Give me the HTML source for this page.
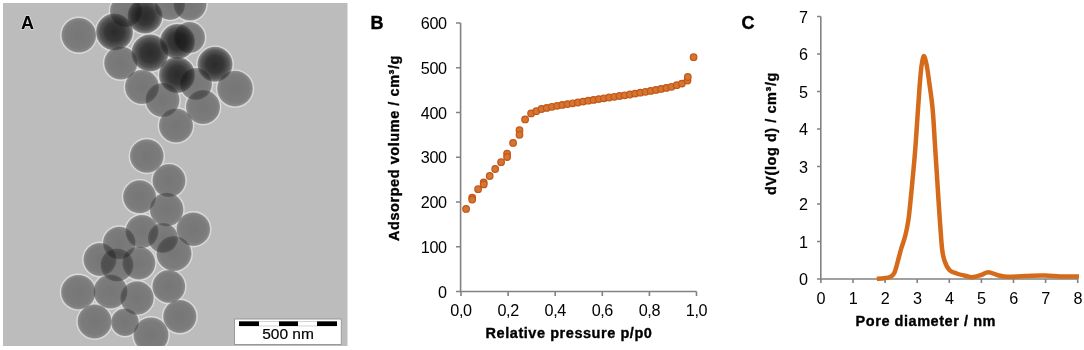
<!DOCTYPE html>
<html><head><meta charset="utf-8">
<style>
html,body{margin:0;padding:0;background:#fff;}
body{width:1084px;height:350px;position:relative;overflow:hidden;font-family:"Liberation Sans",sans-serif;}
svg text{font-family:"Liberation Sans",sans-serif;}
</style></head><body>
<svg width="344.5" height="343.3" viewBox="3 3 344.5 343.3" style="position:absolute;left:3px;top:3px">
<defs><radialGradient id="gm" cx="50%" cy="50%" r="50%"><stop offset="0" stop-color="#a0a0a0"/><stop offset="0.8" stop-color="#a8a8a8"/><stop offset="0.95" stop-color="#b8b8b8"/><stop offset="1" stop-color="#d0d0d0"/></radialGradient><radialGradient id="gd" cx="50%" cy="50%" r="50%"><stop offset="0" stop-color="#3a3a3a"/><stop offset="0.5" stop-color="#4a4a4a"/><stop offset="0.8" stop-color="#767676"/><stop offset="0.93" stop-color="#a0a0a0"/><stop offset="1" stop-color="#c8c8c8"/></radialGradient><radialGradient id="gh" cx="50%" cy="50%" r="50%"><stop offset="0" stop-color="#c8c8c8"/><stop offset="0.8" stop-color="#d0d0d0"/><stop offset="1" stop-color="#e8e8e8"/></radialGradient></defs>
<rect x="3" y="3" width="344.5" height="343.3" fill="#bcbcbc"/>
<circle cx="78.8" cy="35.2" r="18.0" fill="none" stroke="#dadada" stroke-width="1.4"/>
<circle cx="114.5" cy="32" r="19.2" fill="none" stroke="#dadada" stroke-width="1.4"/>
<circle cx="126" cy="11" r="16.7" fill="none" stroke="#dadada" stroke-width="1.4"/>
<circle cx="145" cy="16" r="18.2" fill="none" stroke="#dadada" stroke-width="1.4"/>
<circle cx="170" cy="5" r="15.7" fill="none" stroke="#dadada" stroke-width="1.4"/>
<circle cx="190" cy="4" r="17.2" fill="none" stroke="#dadada" stroke-width="1.4"/>
<circle cx="150" cy="53" r="19.2" fill="none" stroke="#dadada" stroke-width="1.4"/>
<circle cx="189.5" cy="37.5" r="16.2" fill="none" stroke="#dadada" stroke-width="1.4"/>
<circle cx="177.5" cy="41.5" r="18.2" fill="none" stroke="#dadada" stroke-width="1.4"/>
<circle cx="120.8" cy="63" r="17.3" fill="none" stroke="#dadada" stroke-width="1.4"/>
<circle cx="215" cy="64.3" r="18.2" fill="none" stroke="#dadada" stroke-width="1.4"/>
<circle cx="196" cy="84" r="16.7" fill="none" stroke="#dadada" stroke-width="1.4"/>
<circle cx="177" cy="75" r="18.7" fill="none" stroke="#dadada" stroke-width="1.4"/>
<circle cx="142" cy="87" r="17.7" fill="none" stroke="#dadada" stroke-width="1.4"/>
<circle cx="235" cy="88.6" r="18.5" fill="none" stroke="#dadada" stroke-width="1.4"/>
<circle cx="162.5" cy="100" r="17.7" fill="none" stroke="#dadada" stroke-width="1.4"/>
<circle cx="203" cy="107" r="17.7" fill="none" stroke="#dadada" stroke-width="1.4"/>
<circle cx="176" cy="125.5" r="17.7" fill="none" stroke="#dadada" stroke-width="1.4"/>
<circle cx="146.8" cy="156" r="17.5" fill="none" stroke="#dadada" stroke-width="1.4"/>
<circle cx="169" cy="180.6" r="17.2" fill="none" stroke="#dadada" stroke-width="1.4"/>
<circle cx="139.6" cy="196.8" r="17.2" fill="none" stroke="#dadada" stroke-width="1.4"/>
<circle cx="166.6" cy="209.6" r="17.5" fill="none" stroke="#dadada" stroke-width="1.4"/>
<circle cx="193.3" cy="229.2" r="17.5" fill="none" stroke="#dadada" stroke-width="1.4"/>
<circle cx="142" cy="231.5" r="17.2" fill="none" stroke="#dadada" stroke-width="1.4"/>
<circle cx="119.3" cy="243" r="17.0" fill="none" stroke="#dadada" stroke-width="1.4"/>
<circle cx="174" cy="253.5" r="18.2" fill="none" stroke="#dadada" stroke-width="1.4"/>
<circle cx="100" cy="259.5" r="17.2" fill="none" stroke="#dadada" stroke-width="1.4"/>
<circle cx="117" cy="265" r="17.2" fill="none" stroke="#dadada" stroke-width="1.4"/>
<circle cx="163" cy="238" r="15.7" fill="none" stroke="#dadada" stroke-width="1.4"/>
<circle cx="138.8" cy="263" r="17.2" fill="none" stroke="#dadada" stroke-width="1.4"/>
<circle cx="78.3" cy="292.2" r="17.9" fill="none" stroke="#dadada" stroke-width="1.4"/>
<circle cx="110.5" cy="291.5" r="17.7" fill="none" stroke="#dadada" stroke-width="1.4"/>
<circle cx="137" cy="298" r="17.4" fill="none" stroke="#dadada" stroke-width="1.4"/>
<circle cx="168.8" cy="286.5" r="17.099999999999998" fill="none" stroke="#dadada" stroke-width="1.4"/>
<circle cx="94.6" cy="321.5" r="17.7" fill="none" stroke="#dadada" stroke-width="1.4"/>
<circle cx="125" cy="322.3" r="14.5" fill="none" stroke="#dadada" stroke-width="1.4"/>
<circle cx="151" cy="335" r="18.2" fill="none" stroke="#dadada" stroke-width="1.4"/>
<circle cx="179.8" cy="316.5" r="17.3" fill="none" stroke="#dadada" stroke-width="1.4"/>
<circle cx="78.8" cy="35.2" r="17.0" fill="#bcbcbc"/>
<circle cx="114.5" cy="32" r="18.2" fill="#bcbcbc"/>
<circle cx="126" cy="11" r="15.7" fill="#bcbcbc"/>
<circle cx="145" cy="16" r="17.2" fill="#bcbcbc"/>
<circle cx="170" cy="5" r="14.7" fill="#bcbcbc"/>
<circle cx="190" cy="4" r="16.2" fill="#bcbcbc"/>
<circle cx="150" cy="53" r="18.2" fill="#bcbcbc"/>
<circle cx="189.5" cy="37.5" r="15.2" fill="#bcbcbc"/>
<circle cx="177.5" cy="41.5" r="17.2" fill="#bcbcbc"/>
<circle cx="120.8" cy="63" r="16.3" fill="#bcbcbc"/>
<circle cx="215" cy="64.3" r="17.2" fill="#bcbcbc"/>
<circle cx="196" cy="84" r="15.7" fill="#bcbcbc"/>
<circle cx="177" cy="75" r="17.7" fill="#bcbcbc"/>
<circle cx="142" cy="87" r="16.7" fill="#bcbcbc"/>
<circle cx="235" cy="88.6" r="17.5" fill="#bcbcbc"/>
<circle cx="162.5" cy="100" r="16.7" fill="#bcbcbc"/>
<circle cx="203" cy="107" r="16.7" fill="#bcbcbc"/>
<circle cx="176" cy="125.5" r="16.7" fill="#bcbcbc"/>
<circle cx="146.8" cy="156" r="16.5" fill="#bcbcbc"/>
<circle cx="169" cy="180.6" r="16.2" fill="#bcbcbc"/>
<circle cx="139.6" cy="196.8" r="16.2" fill="#bcbcbc"/>
<circle cx="166.6" cy="209.6" r="16.5" fill="#bcbcbc"/>
<circle cx="193.3" cy="229.2" r="16.5" fill="#bcbcbc"/>
<circle cx="142" cy="231.5" r="16.2" fill="#bcbcbc"/>
<circle cx="119.3" cy="243" r="16.0" fill="#bcbcbc"/>
<circle cx="174" cy="253.5" r="17.2" fill="#bcbcbc"/>
<circle cx="100" cy="259.5" r="16.2" fill="#bcbcbc"/>
<circle cx="117" cy="265" r="16.2" fill="#bcbcbc"/>
<circle cx="163" cy="238" r="14.7" fill="#bcbcbc"/>
<circle cx="138.8" cy="263" r="16.2" fill="#bcbcbc"/>
<circle cx="78.3" cy="292.2" r="16.9" fill="#bcbcbc"/>
<circle cx="110.5" cy="291.5" r="16.7" fill="#bcbcbc"/>
<circle cx="137" cy="298" r="16.4" fill="#bcbcbc"/>
<circle cx="168.8" cy="286.5" r="16.099999999999998" fill="#bcbcbc"/>
<circle cx="94.6" cy="321.5" r="16.7" fill="#bcbcbc"/>
<circle cx="125" cy="322.3" r="13.5" fill="#bcbcbc"/>
<circle cx="151" cy="335" r="17.2" fill="#bcbcbc"/>
<circle cx="179.8" cy="316.5" r="16.3" fill="#bcbcbc"/>
<circle cx="78.8" cy="35.2" r="17.3" fill="url(#gm)" style="mix-blend-mode:multiply"/>
<circle cx="114.5" cy="32" r="18.5" fill="url(#gd)" style="mix-blend-mode:multiply"/>
<circle cx="126" cy="11" r="16" fill="url(#gm)" style="mix-blend-mode:multiply"/>
<circle cx="145" cy="16" r="17.5" fill="url(#gd)" style="mix-blend-mode:multiply"/>
<circle cx="170" cy="5" r="15" fill="url(#gm)" style="mix-blend-mode:multiply"/>
<circle cx="190" cy="4" r="16.5" fill="url(#gm)" style="mix-blend-mode:multiply"/>
<circle cx="150" cy="53" r="18.5" fill="url(#gd)" style="mix-blend-mode:multiply"/>
<circle cx="189.5" cy="37.5" r="15.5" fill="url(#gm)" style="mix-blend-mode:multiply"/>
<circle cx="177.5" cy="41.5" r="17.5" fill="url(#gd)" style="mix-blend-mode:multiply"/>
<circle cx="120.8" cy="63" r="16.6" fill="url(#gm)" style="mix-blend-mode:multiply"/>
<circle cx="215" cy="64.3" r="17.5" fill="url(#gd)" style="mix-blend-mode:multiply"/>
<circle cx="196" cy="84" r="16" fill="url(#gm)" style="mix-blend-mode:multiply"/>
<circle cx="177" cy="75" r="18" fill="url(#gd)" style="mix-blend-mode:multiply"/>
<circle cx="142" cy="87" r="17" fill="url(#gm)" style="mix-blend-mode:multiply"/>
<circle cx="235" cy="88.6" r="17.8" fill="url(#gm)" style="mix-blend-mode:multiply"/>
<circle cx="162.5" cy="100" r="17" fill="url(#gm)" style="mix-blend-mode:multiply"/>
<circle cx="203" cy="107" r="17" fill="url(#gm)" style="mix-blend-mode:multiply"/>
<circle cx="176" cy="125.5" r="17" fill="url(#gm)" style="mix-blend-mode:multiply"/>
<circle cx="146.8" cy="156" r="16.8" fill="url(#gm)" style="mix-blend-mode:multiply"/>
<circle cx="169" cy="180.6" r="16.5" fill="url(#gm)" style="mix-blend-mode:multiply"/>
<circle cx="139.6" cy="196.8" r="16.5" fill="url(#gm)" style="mix-blend-mode:multiply"/>
<circle cx="166.6" cy="209.6" r="16.8" fill="url(#gm)" style="mix-blend-mode:multiply"/>
<circle cx="193.3" cy="229.2" r="16.8" fill="url(#gm)" style="mix-blend-mode:multiply"/>
<circle cx="142" cy="231.5" r="16.5" fill="url(#gm)" style="mix-blend-mode:multiply"/>
<circle cx="119.3" cy="243" r="16.3" fill="url(#gm)" style="mix-blend-mode:multiply"/>
<circle cx="174" cy="253.5" r="17.5" fill="url(#gm)" style="mix-blend-mode:multiply"/>
<circle cx="100" cy="259.5" r="16.5" fill="url(#gm)" style="mix-blend-mode:multiply"/>
<circle cx="117" cy="265" r="16.5" fill="url(#gm)" style="mix-blend-mode:multiply"/>
<circle cx="163" cy="238" r="15" fill="url(#gm)" style="mix-blend-mode:multiply"/>
<circle cx="138.8" cy="263" r="16.5" fill="url(#gm)" style="mix-blend-mode:multiply"/>
<circle cx="78.3" cy="292.2" r="17.2" fill="url(#gm)" style="mix-blend-mode:multiply"/>
<circle cx="110.5" cy="291.5" r="17" fill="url(#gm)" style="mix-blend-mode:multiply"/>
<circle cx="137" cy="298" r="16.7" fill="url(#gm)" style="mix-blend-mode:multiply"/>
<circle cx="168.8" cy="286.5" r="16.4" fill="url(#gm)" style="mix-blend-mode:multiply"/>
<circle cx="94.6" cy="321.5" r="17" fill="url(#gm)" style="mix-blend-mode:multiply"/>
<circle cx="125" cy="322.3" r="13.8" fill="url(#gm)" style="mix-blend-mode:multiply"/>
<circle cx="151" cy="335" r="17.5" fill="url(#gm)" style="mix-blend-mode:multiply"/>
<circle cx="179.8" cy="316.5" r="16.6" fill="url(#gm)" style="mix-blend-mode:multiply"/>
</svg>
<svg width="1084" height="350" style="position:absolute;left:0;top:0">
  <!-- panel A overlays -->
  <text x="21" y="29" font-size="18" font-weight="bold" fill="#000" stroke="#dcdcdc" stroke-width="1.6" paint-order="stroke" stroke-linejoin="round">A</text>
  <rect x="234.5" y="319" width="106.8" height="25.5" fill="#fff" stroke="#9a9a9a" stroke-width="1"/>
  <rect x="239.5" y="321.5" width="97" height="4.5" fill="#fff" stroke="#c8c8c8" stroke-width="0.8"/>
  <rect x="239" y="321.4" width="20" height="4.6" fill="#000"/>
  <rect x="279" y="321.4" width="19" height="4.6" fill="#000"/>
  <rect x="317" y="321.4" width="20" height="4.6" fill="#000"/>
  <text x="288" y="339.1" font-size="15.5" text-anchor="middle" fill="#000" stroke="#000" stroke-width="0.2">500 nm</text>

  <!-- panel B -->
  <text x="370.6" y="29" font-size="18" font-weight="bold" stroke="#000" stroke-width="0.4">B</text>
  <g stroke="#828282" stroke-width="1.6" fill="none">
    <path d="M460.6,23 V291.5 H696.5"/>
    <path d="M456,23 H460.6 M456,67.75 H460.6 M456,112.5 H460.6 M456,157.25 H460.6 M456,202 H460.6 M456,246.75 H460.6 M456,291.5 H460.6"/>
    <path d="M461,291.5 V296 M508.1,291.5 V296 M555.2,291.5 V296 M602.3,291.5 V296 M649.4,291.5 V296 M696.5,291.5 V296"/>
  </g>
  <g font-size="16.2" letter-spacing="-0.4" text-anchor="end" fill="#000">
    <text x="446.6" y="29">600</text>
    <text x="446.6" y="73.75">500</text>
    <text x="446.6" y="118.5">400</text>
    <text x="446.6" y="163.25">300</text>
    <text x="446.6" y="208">200</text>
    <text x="446.6" y="252.75">100</text>
    <text x="446.6" y="297.5">0</text>
  </g>
  <g font-size="16.2" letter-spacing="-0.4" text-anchor="middle" fill="#000">
    <text x="461" y="315.6">0,0</text>
    <text x="508.1" y="315.6">0,2</text>
    <text x="555.2" y="315.6">0,4</text>
    <text x="602.3" y="315.6">0,6</text>
    <text x="649.4" y="315.6">0,8</text>
    <text x="696.5" y="315.6">1,0</text>
  </g>
  <text transform="translate(399.4,148) rotate(-90)" font-size="14.5" font-weight="bold" letter-spacing="0.55" stroke="#000" stroke-width="0.35" text-anchor="middle">Adsorped volume / cm³/g</text>
  <text x="569" y="338" font-size="14.5" font-weight="bold" letter-spacing="0.55" stroke="#000" stroke-width="0.35" text-anchor="middle">Relative pressure p/p0</text>
  <circle cx="466.1" cy="208.9" r="3.3" fill="#d7742f" stroke="#c0581a" stroke-width="1.2"/>
<circle cx="472.2" cy="197.6" r="3.3" fill="#d7742f" stroke="#c0581a" stroke-width="1.2"/>
<circle cx="472.2" cy="199.6" r="3.3" fill="#d7742f" stroke="#c0581a" stroke-width="1.2"/>
<circle cx="478.1" cy="189.2" r="3.3" fill="#d7742f" stroke="#c0581a" stroke-width="1.2"/>
<circle cx="483.7" cy="182.4" r="3.3" fill="#d7742f" stroke="#c0581a" stroke-width="1.2"/>
<circle cx="483.7" cy="184.4" r="3.3" fill="#d7742f" stroke="#c0581a" stroke-width="1.2"/>
<circle cx="489.7" cy="176" r="3.3" fill="#d7742f" stroke="#c0581a" stroke-width="1.2"/>
<circle cx="495.2" cy="169" r="3.3" fill="#d7742f" stroke="#c0581a" stroke-width="1.2"/>
<circle cx="501.1" cy="162.2" r="3.3" fill="#d7742f" stroke="#c0581a" stroke-width="1.2"/>
<circle cx="507.1" cy="153.7" r="3.3" fill="#d7742f" stroke="#c0581a" stroke-width="1.2"/>
<circle cx="507.1" cy="157" r="3.3" fill="#d7742f" stroke="#c0581a" stroke-width="1.2"/>
<circle cx="513.1" cy="142.9" r="3.3" fill="#d7742f" stroke="#c0581a" stroke-width="1.2"/>
<circle cx="519.5" cy="130.2" r="3.3" fill="#d7742f" stroke="#c0581a" stroke-width="1.2"/>
<circle cx="519.5" cy="134.8" r="3.3" fill="#d7742f" stroke="#c0581a" stroke-width="1.2"/>
<circle cx="525.1" cy="119.4" r="3.3" fill="#d7742f" stroke="#c0581a" stroke-width="1.2"/>
<circle cx="531.1" cy="113.4" r="3.3" fill="#d7742f" stroke="#c0581a" stroke-width="1.2"/>
<circle cx="536.3" cy="111.2" r="3.3" fill="#d7742f" stroke="#c0581a" stroke-width="1.2"/>
<circle cx="541.5" cy="109.0" r="3.3" fill="#d7742f" stroke="#c0581a" stroke-width="1.2"/>
<circle cx="546.7" cy="107.9" r="3.3" fill="#d7742f" stroke="#c0581a" stroke-width="1.2"/>
<circle cx="551.9" cy="106.8" r="3.3" fill="#d7742f" stroke="#c0581a" stroke-width="1.2"/>
<circle cx="557.1" cy="105.8" r="3.3" fill="#d7742f" stroke="#c0581a" stroke-width="1.2"/>
<circle cx="562.3" cy="104.9" r="3.3" fill="#d7742f" stroke="#c0581a" stroke-width="1.2"/>
<circle cx="567.5" cy="104.1" r="3.3" fill="#d7742f" stroke="#c0581a" stroke-width="1.2"/>
<circle cx="572.7" cy="103.3" r="3.3" fill="#d7742f" stroke="#c0581a" stroke-width="1.2"/>
<circle cx="577.9" cy="102.5" r="3.3" fill="#d7742f" stroke="#c0581a" stroke-width="1.2"/>
<circle cx="583.1" cy="101.6" r="3.3" fill="#d7742f" stroke="#c0581a" stroke-width="1.2"/>
<circle cx="588.3" cy="100.7" r="3.3" fill="#d7742f" stroke="#c0581a" stroke-width="1.2"/>
<circle cx="593.5" cy="99.9" r="3.3" fill="#d7742f" stroke="#c0581a" stroke-width="1.2"/>
<circle cx="598.7" cy="99.1" r="3.3" fill="#d7742f" stroke="#c0581a" stroke-width="1.2"/>
<circle cx="603.9" cy="98.3" r="3.3" fill="#d7742f" stroke="#c0581a" stroke-width="1.2"/>
<circle cx="609.1" cy="97.5" r="3.3" fill="#d7742f" stroke="#c0581a" stroke-width="1.2"/>
<circle cx="614.3" cy="96.8" r="3.3" fill="#d7742f" stroke="#c0581a" stroke-width="1.2"/>
<circle cx="619.5" cy="96.0" r="3.3" fill="#d7742f" stroke="#c0581a" stroke-width="1.2"/>
<circle cx="624.7" cy="95.3" r="3.3" fill="#d7742f" stroke="#c0581a" stroke-width="1.2"/>
<circle cx="629.9" cy="94.5" r="3.3" fill="#d7742f" stroke="#c0581a" stroke-width="1.2"/>
<circle cx="635.1" cy="93.6" r="3.3" fill="#d7742f" stroke="#c0581a" stroke-width="1.2"/>
<circle cx="640.3" cy="92.7" r="3.3" fill="#d7742f" stroke="#c0581a" stroke-width="1.2"/>
<circle cx="645.5" cy="91.8" r="3.3" fill="#d7742f" stroke="#c0581a" stroke-width="1.2"/>
<circle cx="650.7" cy="90.9" r="3.3" fill="#d7742f" stroke="#c0581a" stroke-width="1.2"/>
<circle cx="655.9" cy="89.9" r="3.3" fill="#d7742f" stroke="#c0581a" stroke-width="1.2"/>
<circle cx="661.1" cy="88.9" r="3.3" fill="#d7742f" stroke="#c0581a" stroke-width="1.2"/>
<circle cx="666.3" cy="87.9" r="3.3" fill="#d7742f" stroke="#c0581a" stroke-width="1.2"/>
<circle cx="671.5" cy="86.8" r="3.3" fill="#d7742f" stroke="#c0581a" stroke-width="1.2"/>
<circle cx="676.7" cy="85.2" r="3.3" fill="#d7742f" stroke="#c0581a" stroke-width="1.2"/>
<circle cx="681.9" cy="83.6" r="3.3" fill="#d7742f" stroke="#c0581a" stroke-width="1.2"/>
<circle cx="687.5" cy="80.5" r="3.3" fill="#d7742f" stroke="#c0581a" stroke-width="1.2"/>
<circle cx="687.8" cy="77" r="3.3" fill="#d7742f" stroke="#c0581a" stroke-width="1.2"/>
<circle cx="693.6" cy="57.2" r="3.3" fill="#d7742f" stroke="#c0581a" stroke-width="1.2"/>

  <!-- panel C -->
  <text x="741.6" y="29" font-size="18" font-weight="bold" stroke="#000" stroke-width="0.4">C</text>
  <g stroke="#828282" stroke-width="1.6" fill="none">
    <path d="M820.8,16.5 V279 H1078"/>
    <path d="M817,16.5 H820.8 M817,54 H820.8 M817,91.5 H820.8 M817,129 H820.8 M817,166.5 H820.8 M817,204 H820.8 M817,241.5 H820.8 M817,279 H820.8"/>
    <path d="M820.9,279 V283 M853,279 V283 M885.1,279 V283 M917.2,279 V283 M949.3,279 V283 M981.4,279 V283 M1013.5,279 V283 M1045.6,279 V283 M1077.7,279 V283"/>
  </g>
  <g font-size="16.2" letter-spacing="-0.4" text-anchor="end" fill="#000">
    <text x="807.6" y="22.6">7</text>
    <text x="807.6" y="60.1">6</text>
    <text x="807.6" y="97.6">5</text>
    <text x="807.6" y="135.1">4</text>
    <text x="807.6" y="172.6">3</text>
    <text x="807.6" y="210.1">2</text>
    <text x="807.6" y="247.6">1</text>
    <text x="807.6" y="285.1">0</text>
  </g>
  <g font-size="16.2" letter-spacing="-0.4" text-anchor="middle" fill="#000">
    <text x="820.9" y="304.2">0</text>
    <text x="853" y="304.2">1</text>
    <text x="885.1" y="304.2">2</text>
    <text x="917.2" y="304.2">3</text>
    <text x="949.3" y="304.2">4</text>
    <text x="981.4" y="304.2">5</text>
    <text x="1013.5" y="304.2">6</text>
    <text x="1045.6" y="304.2">7</text>
    <text x="1077.7" y="304.2">8</text>
  </g>
  <text transform="translate(776,133.6) rotate(-90)" font-size="14.5" font-weight="bold" letter-spacing="0.55" stroke="#000" stroke-width="0.35" text-anchor="middle">dV(log d) / cm³/g</text>
  <text x="925.8" y="326" font-size="14.5" font-weight="bold" letter-spacing="0.55" stroke="#000" stroke-width="0.35" text-anchor="middle">Pore diameter / nm</text>
  <path d="M876.8,278.8 C878.0,278.7 881.8,278.5 884,278.2 C886.2,277.9 888.2,277.9 889.9,277 C891.6,276.1 893.0,275.7 894.3,273 C895.6,270.3 896.8,265.0 897.9,261 C899.0,257.0 899.9,253.2 901.1,249 C902.3,244.8 904.0,240.8 905.2,236 C906.4,231.2 907.5,226.0 908.4,220 C909.3,214.0 909.8,207.5 910.6,200 C911.4,192.5 912.2,183.3 913,175 C913.8,166.7 914.4,160.0 915.2,150 C916.0,140.0 916.9,125.8 917.6,115 C918.4,104.2 919.1,93.2 919.7,85 C920.4,76.8 920.8,70.8 921.5,66 C922.2,61.2 923.0,56.9 923.7,56.2 C924.5,55.5 925.4,59.7 926,62 C926.6,64.3 926.9,66.2 927.5,70 C928.1,73.8 928.7,78.3 929.6,85 C930.5,91.7 931.8,99.2 932.7,110 C933.7,120.8 934.3,135.0 935.3,150 C936.3,165.0 937.7,187.5 938.5,200 C939.3,212.5 939.6,216.8 940.2,225 C940.8,233.2 941.4,243.0 942.1,249 C942.8,255.0 943.4,257.5 944.6,261 C945.8,264.5 947.4,267.9 949.4,270 C951.4,272.1 953.9,272.5 956.7,273.5 C959.5,274.5 963.8,275.4 966.4,276 C969.0,276.6 970.1,277.4 972.5,277.2 C974.9,277.0 978.4,275.8 981,275 C983.6,274.2 985.5,272.2 988.3,272.2 C991.1,272.2 994.7,274.4 998,275.2 C1001.3,276.0 1003.5,276.7 1008,276.8 C1012.5,276.9 1018.8,276.2 1025,276 C1031.2,275.8 1039.2,275.5 1045,275.6 C1050.8,275.7 1054.3,276.2 1060,276.4 C1065.7,276.5 1075.8,276.5 1079,276.5" fill="none" stroke="#d56a1a" stroke-width="4.5" stroke-linecap="butt" stroke-linejoin="round"/>
</svg>
</body></html>
